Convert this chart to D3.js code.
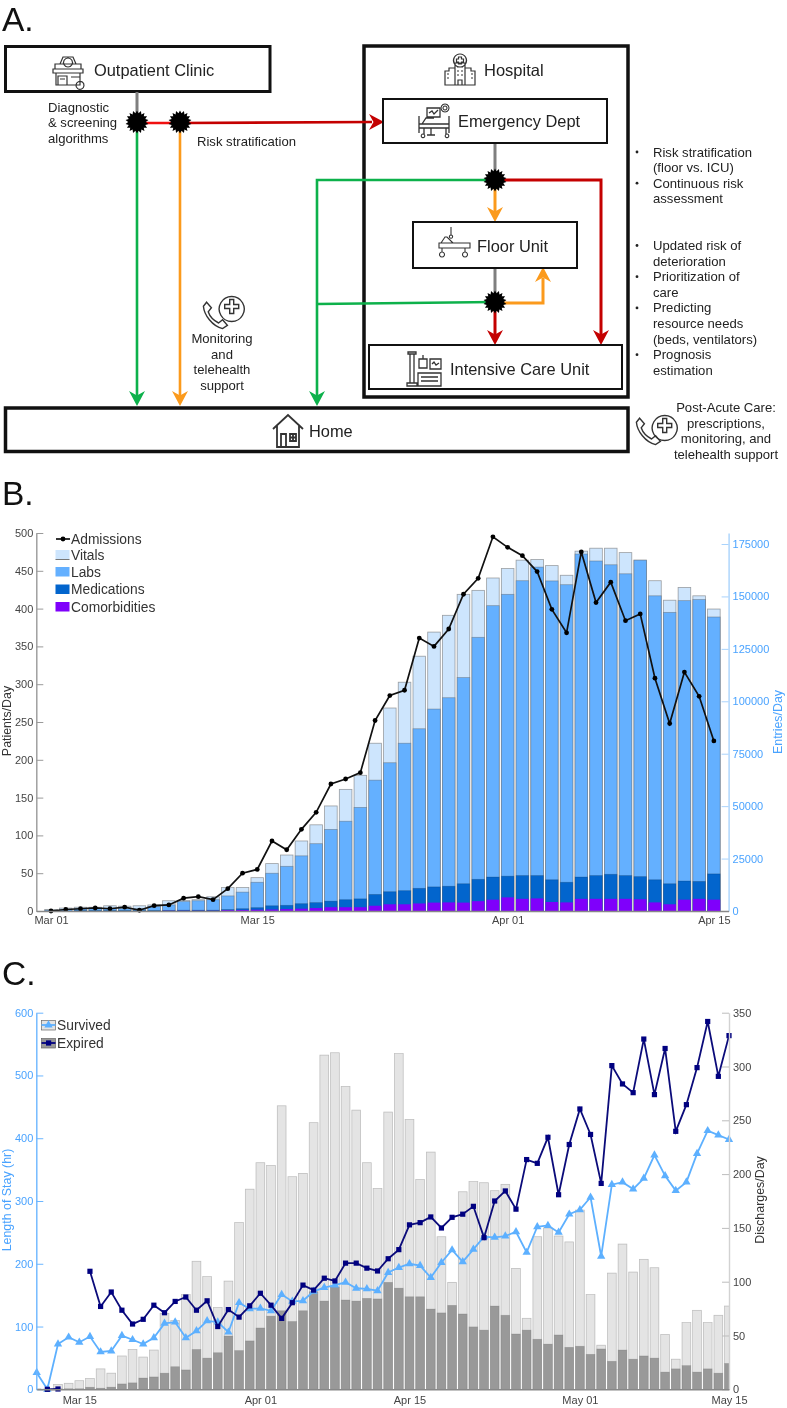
<!DOCTYPE html>
<html><head><meta charset="utf-8">
<script src="https://cdn.jsdelivr.net/npm/d3@7"></script>
<style>
html,body{margin:0;padding:0;background:#fff}
svg{display:block;filter:blur(.35px)}
text{font-family:"Liberation Sans",Arial,sans-serif}
</style></head><body><svg id="c" width="787" height="1408"></svg>
<script>
// ---------- Panel B data (Mar 01 .. Apr 15) ----------
const admitStart = new Date(2020,2,1);
const admissions = [0,2,3,4,3,5,1,7,8,17,19,15,29.5,50,55,92.6,81,108,130.5,168,174.6,183,252,285,292,361,350,373,419,440,495,481,470,449,399,368,475,408,435,384,393,308,248,316,284,225];
const vitals = [700,1400,1800,1800,2500,2300,2500,2900,4900,5000,5400,6800,11200,11200,15900,22600,26700,33400,41100,50100,58000,64700,80000,96800,109100,121500,133000,141000,151000,152900,158800,163300,167300,167600,164700,160100,171600,173000,173000,170900,167300,157500,148200,154300,150300,144000];
const labs = [400,700,1100,1100,1300,1100,1100,2200,2900,4500,4900,5400,7200,9000,13700,18000,21300,26300,32100,38900,42800,49400,62400,70700,80000,86900,96300,101700,111300,130500,145600,151000,157500,164000,157400,155600,170200,166900,165100,160800,167300,150300,142400,148000,148500,140200];
const medications = [0,0,200,200,200,200,200,200,300,400,400,400,700,1100,1600,2500,2700,3500,4000,4700,5400,5800,7900,9200,9700,10800,11500,11800,13000,15100,16200,16600,16900,16900,14900,13700,16200,16900,17500,16900,16400,14900,13000,14300,14100,17700];
const comorbidities = [0,0,0,0,0,0,0,0,100,100,100,100,400,500,600,700,900,1100,1400,1800,1800,1800,2500,3200,3200,3600,4000,4100,4000,4700,5400,6500,5800,6000,4300,4100,5800,5800,5800,5800,5600,4100,3200,5400,5800,5400];
const patientTicks = [0,50,100,150,200,250,300,350,400,450,500];
const entryTicks = [0,25000,50000,75000,100000,125000,150000,175000];
const admitDateTicks = [new Date(2020,2,1),new Date(2020,2,15),new Date(2020,3,1),new Date(2020,3,15)];
const legendB = ["Vitals","Labs","Medications","Comorbidities"];

// ---------- Panel C data (Mar 11 .. May 15) ----------
const dischargeStart = new Date(2020,2,11);
const losSurvived = [26.5,0,72,83,75,84,59.5,61,85.5,79,72,82,105,107,82,93,109,107,91,138,128,129,125,151,140,141,156,162,166,170.5,161,160,157,186,194,200,197,178,202,222,203,223,243,242,244,251,218,259,261,250,279,286,306,212,326,330,319,336,373,340,316.5,330,375.5,412,405,398];
const losExpired = [null,0,0.5,null,null,188,132,155,126,104,111.5,134,122,140,147,126,141,100,127,115,133,153,134,113,138,166,158,177,172.6,201,201,193,188.5,208,222.5,262,265.5,274.6,257,274,279,291.5,241.6,300,316,287,366,360,401.5,310,390,446.6,406,328,515.7,486.5,472.6,558,469.5,543,411,453.5,512.5,586,498.6,563.5];
const survivedPerDay = [0.5,0.3,4.6,5.6,8,10,19,15,31,37,30,36.5,70.6,64,88,119,104.7,76,100.6,155,186,210.6,208,263.5,197.6,200.7,247.8,310.6,312.8,281.5,259.5,210.6,186.7,257.7,312,250.8,195,220.5,141.8,99.4,183.6,193,192,184.6,190.5,112.4,66,141.8,150,142.5,137,166.6,88,41,108,135,109,120.8,113,51,28,62,73.4,62,68.8,77.4];
const expiredPerDay = [0,0,0.5,0.5,0.5,1.9,1,2,5,6,10.5,11.5,15,21,18,37,29,34,49.5,36,45,57,68,73,63,73,90.7,82,95,83,82,84.5,84,99.4,94,86,86,74.6,71,78,70,58,55,77.4,68.8,51.4,55,46.5,42,50.5,39,40,32.5,37.5,26,36.5,28,31,29,16,19,22,16,19,15,24];
const losTicks = [0,100,200,300,400,500,600];
const dischargeTicks = [0,50,100,150,200,250,300,350];
const dischargeDateTicks = [new Date(2020,2,15),new Date(2020,3,1),new Date(2020,3,15),new Date(2020,4,1),new Date(2020,4,15)];

// ---------- Panel A labels ----------
const bulletsTop = ["Risk stratification","(floor vs. ICU)","Continuous risk","assessment"];
const bulletsBottom = ["Updated risk of","deterioration","Prioritization of","care","Predicting","resource needs","(beds, ventilators)","Prognosis","estimation"];
const postAcute = ["Post-Acute Care:","prescriptions,","monitoring, and","telehealth support"];
const monitoring = ["Monitoring","and","telehealth","support"];
const diagnostic = ["Diagnostic","& screening","algorithms"];

const svg = d3.select("#c");
const DARK="#333", BLUE="#4aa3ff";
const panelLabel=(t,y)=>svg.append("text").attr("x",2).attr("y",y).attr("font-size",33.5).attr("fill","#111").text(t);
panelLabel("A.",30.5);panelLabel("B.",505);panelLabel("C.",985);

// ================= PANEL A =================
const A = svg.append("g");
const box=(x0,y0,x1,y1,w)=>A.append("rect").attr("x",x0).attr("y",y0).attr("width",x1-x0).attr("height",y1-y0).attr("fill","#fff").attr("stroke","#111").attr("stroke-width",w);
box(5.5,46.5,270,91.5,3);
box(364,46,628,397,3.5);
box(5.5,408,628,451.5,3.5);
const seg=(pts,c,w=2.6)=>A.append("path").attr("d",d3.line()(pts)).attr("fill","none").attr("stroke",c).attr("stroke-width",w);
const arrow=(x,y,angle,c)=>A.append("path").attr("d","M0 0L-15 -8L-10.5 0L-15 8Z").attr("transform",`translate(${x},${y}) rotate(${angle})`).attr("fill",c);
const GREEN="#0db14b",ORANGE="#fb9a1c",RED="#c40000",GREY="#7f7f7f";
seg([[137,92],[137,122]],GREY,3);
seg([[137,123],[180,123]],"#f01010");
seg([[180,123],[372,122]],RED);
arrow(384,122,0,RED);
seg([[137,122],[137,396]],GREEN);arrow(137,406,90,GREEN);
seg([[180,122],[180,396]],ORANGE);arrow(180,406,90,ORANGE);
seg([[317,396],[317,180],[495,180]],GREEN);arrow(317,406,90,GREEN);
seg([[317,304],[495,302]],GREEN);
seg([[495,143],[495,180]],GREY,3);
seg([[495,180],[495,212]],ORANGE,3);arrow(495,222,90,ORANGE);
seg([[495,180],[601,180],[601,335]],RED,3);arrow(601,345,90,RED);
seg([[495,268],[495,302]],GREY,3);
seg([[495,303],[543,303],[543,278]],ORANGE,3);arrow(543,267,-90,ORANGE);
seg([[495,302],[495,335]],RED,3);arrow(495,345,90,RED);
box(383,99,607,143,2);box(413,222,577,268,2);box(369,345,622,389,2);

const starLine=d3.lineRadial().curve(d3.curveLinearClosed);
const spikes=d3.range(36).map(i=>[i*Math.PI/18,i%2?8.8:11.6]);
[[137,122],[180,122],[495,180],[495,302]].forEach(p=>A.append("path").attr("d",starLine(spikes)).attr("transform",`translate(${p[0]},${p[1]})`).attr("fill","#000"));

const label=(t,x,y,s,anchor="start")=>A.append("text").attr("x",x).attr("y",y).attr("font-size",s).attr("text-anchor",anchor).attr("fill","#222").text(t);
label("Outpatient Clinic",94,76,16.4);
label("Hospital",484,76,16.5);
label("Emergency Dept",458,127,16.4);
label("Floor Unit",477,252,16.4);
label("Intensive Care Unit",450,375,16.4);
label("Home",309,437,16.4);
diagnostic.forEach((t,i)=>label(t,48,112+i*15.4,13.1));
label("Risk stratification",197,146,13.1);
monitoring.forEach((t,i)=>label(t,222,343+i*15.6,13.1,"middle"));
bulletsTop.forEach((t,i)=>label(t,653,156.5+i*15.6,13.1));
bulletsBottom.forEach((t,i)=>label(t,653,250+i*15.6,13.1));
[0,2].forEach(i=>A.append("circle").attr("cx",637).attr("cy",152+i*15.6).attr("r",1.4).attr("fill","#222"));
[0,2,4,7].forEach(i=>A.append("circle").attr("cx",637).attr("cy",245.5+i*15.6).attr("r",1.4).attr("fill","#222"));
postAcute.forEach((t,i)=>label(t,726,412+i*15.7,13.1,"middle"));

const icon=(x,y,d,w=1,s=1)=>A.append("path").attr("transform",`translate(${x},${y}) scale(${s})`).attr("d",d).attr("fill","none").attr("stroke","#333").attr("stroke-width",w/s);
icon(52,55,"M3 9H29V14H3ZM1 14H31V18H1ZM4 18V30H28V18M8 9L11 2H21L24 9M16 3a4.5 4.5 0 1 0 .01 0M6 21H15V30H6ZM8 24H13M19 22H28M24 30a4 4 0 1 0 .01 -.1",1.2);
icon(444,53,"M5 15H11V32H1V18H5ZM27 15H21V32H31V18H27ZM11 10H21V32H11ZM16 1a6.5 6.5 0 1 0 .01 0M14.5 4H17.5V6H19.5V9H17.5V11H14.5V9H12.5V6H14.5ZM13 14H15M17 14H19M13 18H15M17 18H19M13 22H15M17 22H19M14 32V27H18V32M3 21H5M3 25H5M27 21H29M27 25H29",1.2);
icon(418,103,"M1 13V30M31 13V30M1 21H31V25H1ZM4 21L8 15H16M6 25V31M28 25V31M13 25V32M9 32H17M9 5H22V14H9ZM11 10L14 8L16 11L20 7",1.3);
icon(418,103,"M27 1a4 4 0 1 0 .01 0M27 3a2 2 0 1 0 .01 0M5 31a1.8 1.8 0 1 0 .01 0M29 31a1.8 1.8 0 1 0 .01 0",1.1);
icon(438,226,"M1 17H32V22H1ZM3 17L7 11H9L15 17M4 22V26M27 22V26M4 26a2.5 2.5 0 1 0 .01 0M27 26a2.5 2.5 0 1 0 .01 0M13 1V9M13 9a1.6 1.6 0 1 0 .01 0",1.1);
icon(405,350,"M5 4V33M9 4V33M3 2H11V4H3ZM2 33H12V36H2ZM14 9H22V18H14ZM18 5V9M25 9H36V19H25ZM27 14L29 12L31 15L34 13M13 23H36V36H13ZM16 27H33M16 31H33",1.3);
icon(272,414,"M1 15L16 1L31 15M5 12V33H27V12M9 20H14V33H9ZM18 20H24V27H18ZM21 20V27M18 23.5H24",1.8);
const cross="M30 10a12.5 12.5 0 1 0 .01 0M28 13H32V18H37V22H32V27H28V22H23V18H28Z";
[[203,296],[636,415]].forEach(p=>{
  icon(p[0]-2,p[1]+(p[0]>400?0:3),"M7 4L13 11L9 16C11 22 16 27 22 30L27 26L33 33L27 37C14 34 4 20 3 9Z",1.4,.8);
  icon(p[0]-1.3,p[1]-9.5,cross,1.4);
});

// ================= PANEL B =================
const B = svg.append("g");
const bx = d3.scaleTime().domain([d3.timeDay.offset(admitStart,-1),d3.timeDay.offset(admitStart,46)]).range([36.3,728.6]);
const byL = d3.scaleLinear().domain([0,500]).range([911,533]);
const byR = d3.scaleLinear().domain([0,180250]).range([911,533]);
const bDate = i=>d3.timeDay.offset(admitStart,i);
const layer=(vals,c,st,op)=>B.append("g").selectAll("rect").data(vals).join("rect")
  .attr("x",(d,i)=>bx(bDate(i))-6.3).attr("width",12.6)
  .attr("y",d=>byR(d)).attr("height",d=>byR(0)-byR(d))
  .attr("fill",c).attr("stroke",st).attr("stroke-width",st==="none"?0:0.8).attr("stroke-opacity",op);
layer(vitals,"#cde5fd","#666",.6);
layer(labs,"#64b0ff","#555",.45);
layer(medications,"#0265cd","#123",.25);
layer(comorbidities,"#7f00fb","none",0);
B.append("path").attr("d",d3.line().x((d,i)=>bx(bDate(i))).y(d=>byL(d))(admissions)).attr("fill","none").attr("stroke","#111").attr("stroke-width",1.7);
B.append("g").selectAll("circle").data(admissions).join("circle").attr("cx",(d,i)=>bx(bDate(i))).attr("cy",d=>byL(d)).attr("r",2.4).attr("fill","#000");

function axisStyle(g,line,txt,tick){
  g.select(".domain").attr("stroke",line).attr("stroke-width",1.4);
  g.selectAll(".tick line").attr("stroke",tick||line).attr("stroke-width",1);
  g.selectAll(".tick text").attr("fill",txt).attr("font-size",11).style("font-family","'Liberation Sans',Arial,sans-serif");
}
const bl=B.append("g").attr("transform","translate(36.3,0)").call(d3.axisLeft(byL).tickValues(patientTicks).tickSize(-7).tickSizeOuter(0).tickPadding(3).tickFormat(d3.format("d")));
axisStyle(bl,"#9a9a9a","#444");
const br=B.append("g").attr("transform","translate(728.6,0)").call(d3.axisRight(byR).tickValues(entryTicks).tickSize(-7).tickSizeOuter(0).tickPadding(4).tickFormat(d3.format("d")));
axisStyle(br,"#a9d3fc",BLUE);
const bb=B.append("g").attr("transform","translate(0,911)").call(d3.axisBottom(bx).tickValues(admitDateTicks).tickSize(0).tickPadding(5).tickFormat(d3.timeFormat("%b %d")));
axisStyle(bb,"#888","#444");
const ylabel=(g,t,x,y,c)=>g.append("text").attr("transform",`translate(${x},${y}) rotate(-90)`).attr("text-anchor","middle").attr("font-size",12.4).attr("fill",c).text(t);
ylabel(B,"Patients/Day",11,721,DARK);
ylabel(B,"Entries/Day",782,722,BLUE);
const legColors=["#cde5fd","#64b0ff","#0265cd","#7f00fb"];
B.append("line").attr("x1",56).attr("x2",70).attr("y1",539).attr("y2",539).attr("stroke","#111").attr("stroke-width",1.7);
B.append("circle").attr("cx",63).attr("cy",539).attr("r",2.4).attr("fill","#000");
const legText=(g,t,x,y)=>g.append("text").attr("x",x).attr("y",y).attr("font-size",13.8).attr("fill",DARK).text(t);
legText(B,"Admissions",71,544);
legendB.forEach((t,i)=>{
  const yc=[554.5,571.5,589,606.5][i];
  B.append("rect").attr("x",55.5).attr("y",yc-4.5).attr("width",14).attr("height",9.5).attr("fill",legColors[i]);
  if(i==0)B.append("line").attr("x1",55.5).attr("x2",69.5).attr("y1",yc+5).attr("y2",yc+5).attr("stroke","#777");
  legText(B,t,71,yc+5);
});

// ================= PANEL C =================
const C = svg.append("g");
const cx = d3.scaleTime().domain([dischargeStart,new Date(2020,4,15)]).range([36.7,729]);
const cyL = d3.scaleLinear().domain([0,600]).range([1389.3,1012.7]);
const cyR = d3.scaleLinear().domain([0,350]).range([1389.3,1012.7]);
const cDate=i=>d3.timeDay.offset(dischargeStart,i);
svg.append("defs").append("clipPath").attr("id","clipC").append("rect").attr("x",36.7).attr("y",1000).attr("width",692.3).attr("height",390);
const clip=C.append("g").attr("clip-path","url(#clipC)");
const layerC=(vals,c,op)=>clip.append("g").selectAll("rect").data(vals).join("rect")
  .attr("x",(d,i)=>cx(cDate(i))-4.4).attr("width",8.8)
  .attr("y",d=>cyR(d)).attr("height",d=>cyR(0)-cyR(d))
  .attr("fill",c).attr("stroke","#555").attr("stroke-width",.7).attr("stroke-opacity",op);
layerC(survivedPerDay,"#e4e4e4",.35);
layerC(expiredPerDay,"#999999",.25);
const cLine=d3.line().defined(d=>d!==null).x((d,i)=>cx(cDate(i))).y(d=>cyL(d));
const tri=d3.symbol().type(d3.symbolTriangle).size(30);
C.append("path").attr("d",cLine(losSurvived)).attr("fill","none").attr("stroke","#5db0ff").attr("stroke-width",1.8);
C.append("g").selectAll("path").data(losSurvived).join("path").attr("d",tri).attr("transform",(d,i)=>`translate(${cx(cDate(i))},${cyL(d)})`).attr("fill","#5db0ff");
C.append("path").attr("d",cLine(losExpired)).attr("fill","none").attr("stroke","#0b0b7a").attr("stroke-width",1.8);
C.append("g").selectAll("rect").data(losExpired.map((d,i)=>({d,i})).filter(o=>o.d!==null)).join("rect")
  .attr("x",o=>cx(cDate(o.i))-2.6).attr("y",o=>cyL(o.d)-2.6).attr("width",5.2).attr("height",5.2).attr("fill","#000080");
const cl=C.append("g").attr("transform","translate(36.3,0)").call(d3.axisLeft(cyL).tickValues(losTicks).tickSize(-7).tickSizeOuter(0).tickPadding(3).tickFormat(d3.format("d")));
axisStyle(cl,"#6cb6ff",BLUE);
const cr=C.append("g").attr("transform","translate(729,0)").call(d3.axisRight(cyR).tickValues(dischargeTicks).tickSize(-7).tickSizeOuter(0).tickPadding(4).tickFormat(d3.format("d")));
axisStyle(cr,"#d2d2d2","#444","#bdbdbd");
const cb=C.append("g").attr("transform","translate(0,1389.3)").call(d3.axisBottom(cx).tickValues(dischargeDateTicks).tickSize(0).tickPadding(6.5).tickFormat(d3.timeFormat("%b %d")));
axisStyle(cb,"#888","#444");
ylabel(C,"Length of Stay (hr)",11,1200,BLUE);
ylabel(C,"Discharges/Day",764,1200,DARK);
[["Survived","#e3e3e3","#5db0ff",1025],["Expired","#999999","#000080",1043]].forEach((r,i)=>{
  C.append("rect").attr("x",41.5).attr("y",r[3]-4.5).attr("width",14).attr("height",9.5).attr("fill",r[1]).attr("stroke","#666").attr("stroke-width",.7);
  C.append("line").attr("x1",41.5).attr("x2",55.5).attr("y1",r[3]).attr("y2",r[3]).attr("stroke",r[2]).attr("stroke-width",1.8);
  if(i==0)C.append("path").attr("d",tri).attr("transform",`translate(48.5,${r[3]})`).attr("fill",r[2]);
  else C.append("rect").attr("x",46).attr("y",r[3]-2.6).attr("width",5.2).attr("height",5.2).attr("fill",r[2]);
  legText(C,r[0],57,r[3]+5);
});
</script></body></html>
